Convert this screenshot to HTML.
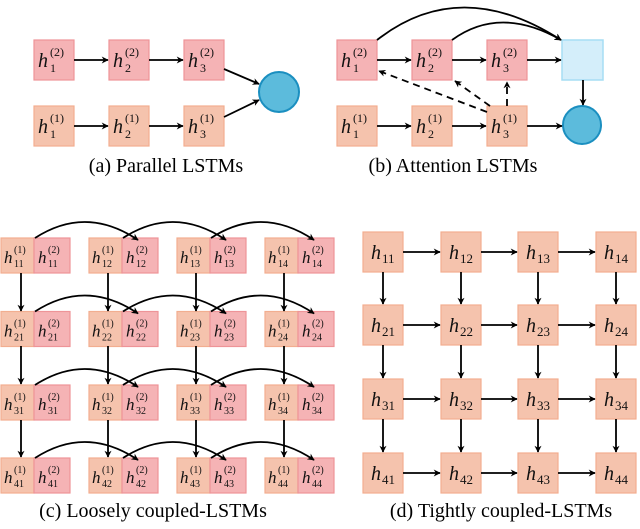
<!DOCTYPE html>
<html><head><meta charset="utf-8"><style>
html,body{margin:0;padding:0;background:#fff;}
svg{display:block;}
.o{fill:#f5c3ad;stroke:#f2ae90;stroke-width:1.2}
.r{fill:#f5b3b5;stroke:#ee9498;stroke-width:1.2}
.ln{stroke:#000;stroke-width:1.8;fill:none}
svg text{font-family:"Liberation Serif","DejaVu Serif",serif !important;}
.h{font-style:italic;fill:#111}
.s{fill:#111}
.cap{font-size:20px;fill:#000}
</style></head><body>
<svg width="640" height="529" viewBox="0 0 640 529" xmlns="http://www.w3.org/2000/svg" font-family="Liberation Serif, DejaVu Serif, serif">
<defs>
<marker id="a" viewBox="0 0 10 10" refX="9" refY="5" markerWidth="7" markerHeight="7" markerUnits="userSpaceOnUse" orient="auto"><path d="M0,0 L10,5 L0,10 L3,5 z" fill="#000"/></marker>
</defs>

<!-- (a) -->
<rect class="r" x="34" y="40" width="40" height="40"/>
<rect class="r" x="109" y="40" width="40" height="40"/>
<rect class="r" x="184" y="40" width="40" height="40"/>
<rect class="o" x="34" y="106" width="40" height="40"/>
<rect class="o" x="109" y="106" width="40" height="40"/>
<rect class="o" x="184" y="106" width="40" height="40"/>
<circle cx="279" cy="92" r="20" fill="#5cbbdc" stroke="#1b8fc0" stroke-width="2"/>
<g class="ln" marker-end="url(#a)">
<line x1="74" y1="60" x2="108" y2="60"/><line x1="149" y1="60" x2="183" y2="60"/>
<line x1="74" y1="126" x2="108" y2="126"/><line x1="149" y1="126" x2="183" y2="126"/>
<line x1="224" y1="69" x2="259" y2="84"/><line x1="224" y1="117" x2="259" y2="100"/>
</g>
<g font-size="20">
<text class="h" x="38" y="67">h</text><text class="s" x="50" y="56" font-size="12">(2)</text><text class="s" x="50" y="72" font-size="12">1</text>
<text class="h" x="113" y="67">h</text><text class="s" x="125" y="56" font-size="12">(2)</text><text class="s" x="125" y="72" font-size="12">2</text>
<text class="h" x="188" y="67">h</text><text class="s" x="200" y="56" font-size="12">(2)</text><text class="s" x="200" y="72" font-size="12">3</text>
<text class="h" x="38" y="133">h</text><text class="s" x="50" y="122" font-size="12">(1)</text><text class="s" x="50" y="138" font-size="12">1</text>
<text class="h" x="113" y="133">h</text><text class="s" x="125" y="122" font-size="12">(1)</text><text class="s" x="125" y="138" font-size="12">2</text>
<text class="h" x="188" y="133">h</text><text class="s" x="200" y="122" font-size="12">(1)</text><text class="s" x="200" y="138" font-size="12">3</text>
</g>
<text class="cap" x="166" y="172" text-anchor="middle">(a) Parallel LSTMs</text>

<!-- (b) -->
<rect class="r" x="337" y="40" width="40" height="40"/>
<rect class="r" x="412" y="40" width="40" height="40"/>
<rect class="r" x="487" y="40" width="40" height="40"/>
<rect class="o" x="337" y="106" width="40" height="40"/>
<rect class="o" x="412" y="106" width="40" height="40"/>
<rect class="o" x="487" y="106" width="40" height="40"/>
<rect x="562" y="40" width="41" height="40" fill="#d4eefa" stroke="#a6ddf4" stroke-width="1.5"/>
<circle cx="582" cy="125" r="19" fill="#5cbbdc" stroke="#1b8fc0" stroke-width="2"/>
<g class="ln" marker-end="url(#a)">
<line x1="377" y1="60" x2="411" y2="60"/><line x1="452" y1="60" x2="486" y2="60"/><line x1="527" y1="60" x2="561" y2="60"/>
<line x1="377" y1="126" x2="411" y2="126"/><line x1="452" y1="126" x2="486" y2="126"/><line x1="527" y1="126" x2="562" y2="126"/>
<line x1="583" y1="80" x2="583" y2="105"/>
<path d="M377,40 Q460,-25 561,40"/>
<path d="M452,40 Q500,5 561,40"/>
<g stroke-dasharray="7,5">
<line x1="487" y1="112" x2="379" y2="71"/>
<line x1="490" y1="106" x2="455" y2="81"/>
<line x1="507" y1="106" x2="507" y2="82"/>
</g>
</g>
<g font-size="20">
<text class="h" x="341" y="67">h</text><text class="s" x="353" y="56" font-size="12">(2)</text><text class="s" x="353" y="72" font-size="12">1</text>
<text class="h" x="416" y="67">h</text><text class="s" x="428" y="56" font-size="12">(2)</text><text class="s" x="428" y="72" font-size="12">2</text>
<text class="h" x="491" y="67">h</text><text class="s" x="503" y="56" font-size="12">(2)</text><text class="s" x="503" y="72" font-size="12">3</text>
<text class="h" x="341" y="133">h</text><text class="s" x="353" y="122" font-size="12">(1)</text><text class="s" x="353" y="138" font-size="12">1</text>
<text class="h" x="416" y="133">h</text><text class="s" x="428" y="122" font-size="12">(1)</text><text class="s" x="428" y="138" font-size="12">2</text>
<text class="h" x="491" y="133">h</text><text class="s" x="503" y="122" font-size="12">(1)</text><text class="s" x="503" y="138" font-size="12">3</text>
</g>
<text class="cap" x="453" y="172" text-anchor="middle">(b) Attention LSTMs</text>

<!-- (c) -->
<g id="crow">
<rect class="o" x="1" y="238" width="33" height="35"/><rect class="r" x="34" y="238" width="36" height="35"/>
<rect class="o" x="89" y="238" width="33" height="35"/><rect class="r" x="122" y="238" width="36" height="35"/>
<rect class="o" x="177" y="238" width="33" height="35"/><rect class="r" x="210" y="238" width="36" height="35"/>
<rect class="o" x="265" y="238" width="33" height="35"/><rect class="r" x="298" y="238" width="36" height="35"/>
<g class="ln" marker-end="url(#a)" stroke-width="1.6">
<path d="M35,238 Q86,205 138,240"/>
<path d="M123,238 Q174,205 226,240"/>
<path d="M211,238 Q262,205 314,240"/>
</g>
</g>
<use href="#crow" y="73.5"/>
<use href="#crow" y="147"/>
<use href="#crow" y="220"/>
<g class="ln" marker-end="url(#a)" stroke-width="1.6">
<line x1="21" y1="273" x2="21" y2="311"/><line x1="108" y1="273" x2="108" y2="311"/><line x1="196" y1="273" x2="196" y2="311"/><line x1="284" y1="273" x2="284" y2="311"/>
<line x1="21" y1="346" x2="21" y2="384"/><line x1="108" y1="346" x2="108" y2="384"/><line x1="196" y1="346" x2="196" y2="384"/><line x1="284" y1="346" x2="284" y2="384"/>
<line x1="21" y1="420" x2="21" y2="457"/><line x1="108" y1="420" x2="108" y2="457"/><line x1="196" y1="420" x2="196" y2="457"/><line x1="284" y1="420" x2="284" y2="457"/>
</g>
<g font-size="17">
<g>
<text class="h" x="4" y="263">h</text><text class="s" x="14" y="253" font-size="10">(1)</text><text class="s" x="14" y="267" font-size="10">11</text>
<text class="h" x="38" y="263">h</text><text class="s" x="48" y="253" font-size="10">(2)</text><text class="s" x="48" y="267" font-size="10">11</text>
<text class="h" x="92" y="263">h</text><text class="s" x="102" y="253" font-size="10">(1)</text><text class="s" x="102" y="267" font-size="10">12</text>
<text class="h" x="126" y="263">h</text><text class="s" x="136" y="253" font-size="10">(2)</text><text class="s" x="136" y="267" font-size="10">12</text>
<text class="h" x="180" y="263">h</text><text class="s" x="190" y="253" font-size="10">(1)</text><text class="s" x="190" y="267" font-size="10">13</text>
<text class="h" x="214" y="263">h</text><text class="s" x="224" y="253" font-size="10">(2)</text><text class="s" x="224" y="267" font-size="10">13</text>
<text class="h" x="268" y="263">h</text><text class="s" x="278" y="253" font-size="10">(1)</text><text class="s" x="278" y="267" font-size="10">14</text>
<text class="h" x="302" y="263">h</text><text class="s" x="312" y="253" font-size="10">(2)</text><text class="s" x="312" y="267" font-size="10">14</text>
</g>
<g transform="translate(0,73.5)">
<text class="h" x="4" y="263">h</text><text class="s" x="14" y="253" font-size="10">(1)</text><text class="s" x="14" y="267" font-size="10">21</text>
<text class="h" x="38" y="263">h</text><text class="s" x="48" y="253" font-size="10">(2)</text><text class="s" x="48" y="267" font-size="10">21</text>
<text class="h" x="92" y="263">h</text><text class="s" x="102" y="253" font-size="10">(1)</text><text class="s" x="102" y="267" font-size="10">22</text>
<text class="h" x="126" y="263">h</text><text class="s" x="136" y="253" font-size="10">(2)</text><text class="s" x="136" y="267" font-size="10">22</text>
<text class="h" x="180" y="263">h</text><text class="s" x="190" y="253" font-size="10">(1)</text><text class="s" x="190" y="267" font-size="10">23</text>
<text class="h" x="214" y="263">h</text><text class="s" x="224" y="253" font-size="10">(2)</text><text class="s" x="224" y="267" font-size="10">23</text>
<text class="h" x="268" y="263">h</text><text class="s" x="278" y="253" font-size="10">(1)</text><text class="s" x="278" y="267" font-size="10">24</text>
<text class="h" x="302" y="263">h</text><text class="s" x="312" y="253" font-size="10">(2)</text><text class="s" x="312" y="267" font-size="10">24</text>
</g>
<g transform="translate(0,147)">
<text class="h" x="4" y="263">h</text><text class="s" x="14" y="253" font-size="10">(1)</text><text class="s" x="14" y="267" font-size="10">31</text>
<text class="h" x="38" y="263">h</text><text class="s" x="48" y="253" font-size="10">(2)</text><text class="s" x="48" y="267" font-size="10">31</text>
<text class="h" x="92" y="263">h</text><text class="s" x="102" y="253" font-size="10">(1)</text><text class="s" x="102" y="267" font-size="10">32</text>
<text class="h" x="126" y="263">h</text><text class="s" x="136" y="253" font-size="10">(2)</text><text class="s" x="136" y="267" font-size="10">32</text>
<text class="h" x="180" y="263">h</text><text class="s" x="190" y="253" font-size="10">(1)</text><text class="s" x="190" y="267" font-size="10">33</text>
<text class="h" x="214" y="263">h</text><text class="s" x="224" y="253" font-size="10">(2)</text><text class="s" x="224" y="267" font-size="10">33</text>
<text class="h" x="268" y="263">h</text><text class="s" x="278" y="253" font-size="10">(1)</text><text class="s" x="278" y="267" font-size="10">34</text>
<text class="h" x="302" y="263">h</text><text class="s" x="312" y="253" font-size="10">(2)</text><text class="s" x="312" y="267" font-size="10">34</text>
</g>
<g transform="translate(0,220)">
<text class="h" x="4" y="263">h</text><text class="s" x="14" y="253" font-size="10">(1)</text><text class="s" x="14" y="267" font-size="10">41</text>
<text class="h" x="38" y="263">h</text><text class="s" x="48" y="253" font-size="10">(2)</text><text class="s" x="48" y="267" font-size="10">41</text>
<text class="h" x="92" y="263">h</text><text class="s" x="102" y="253" font-size="10">(1)</text><text class="s" x="102" y="267" font-size="10">42</text>
<text class="h" x="126" y="263">h</text><text class="s" x="136" y="253" font-size="10">(2)</text><text class="s" x="136" y="267" font-size="10">42</text>
<text class="h" x="180" y="263">h</text><text class="s" x="190" y="253" font-size="10">(1)</text><text class="s" x="190" y="267" font-size="10">43</text>
<text class="h" x="214" y="263">h</text><text class="s" x="224" y="253" font-size="10">(2)</text><text class="s" x="224" y="267" font-size="10">43</text>
<text class="h" x="268" y="263">h</text><text class="s" x="278" y="253" font-size="10">(1)</text><text class="s" x="278" y="267" font-size="10">44</text>
<text class="h" x="302" y="263">h</text><text class="s" x="312" y="253" font-size="10">(2)</text><text class="s" x="312" y="267" font-size="10">44</text>
</g>
</g>
<text class="cap" x="153" y="517" text-anchor="middle">(c) Loosely coupled-LSTMs</text>

<!-- (d) -->
<g id="drow">
<rect class="o" x="363" y="232" width="40" height="40"/>
<rect class="o" x="441" y="232" width="40" height="40"/>
<rect class="o" x="518" y="232" width="40" height="40"/>
<rect class="o" x="596" y="232" width="40" height="40"/>
<g class="ln" marker-end="url(#a)" stroke-width="1.6">
<line x1="403" y1="252" x2="440" y2="252"/><line x1="481" y1="252" x2="517" y2="252"/><line x1="558" y1="252" x2="595" y2="252"/>
</g>
</g>
<use href="#drow" y="73"/>
<use href="#drow" y="147"/>
<use href="#drow" y="221"/>
<g class="ln" marker-end="url(#a)" stroke-width="1.6">
<line x1="383" y1="272" x2="383" y2="304"/><line x1="461" y1="272" x2="461" y2="304"/><line x1="538" y1="272" x2="538" y2="304"/><line x1="616" y1="272" x2="616" y2="304"/>
<line x1="383" y1="345" x2="383" y2="378"/><line x1="461" y1="345" x2="461" y2="378"/><line x1="538" y1="345" x2="538" y2="378"/><line x1="616" y1="345" x2="616" y2="378"/>
<line x1="383" y1="419" x2="383" y2="452"/><line x1="461" y1="419" x2="461" y2="452"/><line x1="538" y1="419" x2="538" y2="452"/><line x1="616" y1="419" x2="616" y2="452"/>
</g>
<g font-size="20">
<text class="h" x="371" y="259">h</text><text class="s" x="382" y="263" font-size="13">11</text>
<text class="h" x="449" y="259">h</text><text class="s" x="460" y="263" font-size="13">12</text>
<text class="h" x="526" y="259">h</text><text class="s" x="537" y="263" font-size="13">13</text>
<text class="h" x="604" y="259">h</text><text class="s" x="615" y="263" font-size="13">14</text>
<text class="h" x="371" y="332">h</text><text class="s" x="382" y="336" font-size="13">21</text>
<text class="h" x="449" y="332">h</text><text class="s" x="460" y="336" font-size="13">22</text>
<text class="h" x="526" y="332">h</text><text class="s" x="537" y="336" font-size="13">23</text>
<text class="h" x="604" y="332">h</text><text class="s" x="615" y="336" font-size="13">24</text>
<text class="h" x="371" y="406">h</text><text class="s" x="382" y="410" font-size="13">31</text>
<text class="h" x="449" y="406">h</text><text class="s" x="460" y="410" font-size="13">32</text>
<text class="h" x="526" y="406">h</text><text class="s" x="537" y="410" font-size="13">33</text>
<text class="h" x="604" y="406">h</text><text class="s" x="615" y="410" font-size="13">34</text>
<text class="h" x="371" y="480">h</text><text class="s" x="382" y="484" font-size="13">41</text>
<text class="h" x="449" y="480">h</text><text class="s" x="460" y="484" font-size="13">42</text>
<text class="h" x="526" y="480">h</text><text class="s" x="537" y="484" font-size="13">43</text>
<text class="h" x="604" y="480">h</text><text class="s" x="615" y="484" font-size="13">44</text>
</g>
<text class="cap" x="501" y="517" text-anchor="middle">(d) Tightly coupled-LSTMs</text>
</svg>
</body></html>
